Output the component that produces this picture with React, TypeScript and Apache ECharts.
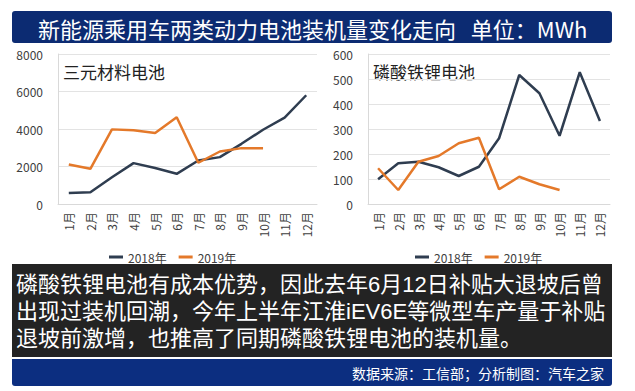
import React, { useEffect, useRef } from "react";
import * as echarts from "echarts";

const months = ["1月", "2月", "3月", "4月", "5月", "6月", "7月", "8月", "9月", "10月", "11月", "12月"];
const ternary2018 = [590, 625, 1430, 2180, 1920, 1610, 2320, 2500, 3210, 3960, 4610, 5800];
const ternary2019 = [2110, 1875, 3980, 3930, 3790, 4630, 2200, 2800, 2980, 2980];
const lfp2018 = [99, 163, 169, 147, 112, 149, 263, 516, 443, 273, 527, 332];
const lfp2019 = [143, 56, 169, 192, 243, 265, 59, 109, 79, 56];
const leftTicks = { max: 8000, interval: 2000 };
const rightTicks = { max: 600, interval: 100 };

const titleText = "新能源乘用车两类动力电池装机量变化走向   单位：MWh";
const noteLines = [
  "磷酸铁锂电池有成本优势，因此去年6月12日补贴大退坡后曾",
  "出现过装机回潮，今年上半年江淮iEV6E等微型车产量于补贴",
  "退坡前激增，也推高了同期磷酸铁锂电池的装机量。",
];
const sourceText = "数据来源：工信部；分析制图：汽车之家";

const C2018 = "#2f3d50";
const C2019 = "#e4792a";
const FONT = "'Noto Sans CJK SC', 'Noto Sans', sans-serif";
const NOTE_FONT = "'Liberation Sans', 'Noto Sans CJK SC', sans-serif";

export default function App() {
  const ref = useRef<HTMLDivElement>(null);
  useEffect(() => {
    if (!ref.current) return;
    const chart = echarts.init(ref.current, null, { renderer: "svg" });
    const yAxisCommon = {
      type: "value",
      min: 0,
      axisLine: { show: true, lineStyle: { color: "#d9d9d9" } },
      axisTick: { show: false },
      splitLine: { lineStyle: { color: "#e3e3e3" } },
      axisLabel: {
        color: "#404040",
        fontSize: 12,
        fontFamily: FONT,
        margin: 15,
        formatter: (v: number) => String(v),
      },
    };
    const xAxisCommon = {
      type: "category",
      data: months,
      boundaryGap: true,
      axisLine: { lineStyle: { color: "#d9d9d9" } },
      axisTick: { show: false },
      axisLabel: { rotate: 90, color: "#404040", fontSize: 12, fontFamily: FONT, margin: 8, interval: 0 },
    };
    const lineCommon = { type: "line", symbol: "none", lineStyle: { width: 2.5 } };
    const legendCommon = {
      top: 246,
      icon: "rect",
      itemWidth: 14,
      itemHeight: 3,
      itemGap: 12,
      textStyle: { color: "#404040", fontSize: 12, fontFamily: FONT },
      data: ["2018年", "2019年"],
    };
    chart.setOption({
      animation: false,
      backgroundColor: "#ffffff",
      textStyle: { fontFamily: FONT },
      grid: [
        { left: 58, top: 54, width: 259, height: 150 },
        { left: 368, top: 54, width: 242, height: 150 },
      ],
      xAxis: [
        { ...xAxisCommon, gridIndex: 0 },
        { ...xAxisCommon, gridIndex: 1 },
      ],
      yAxis: [
        { ...yAxisCommon, gridIndex: 0, max: leftTicks.max, interval: leftTicks.interval },
        { ...yAxisCommon, gridIndex: 1, max: rightTicks.max, interval: rightTicks.interval },
      ],
      legend: [
        { ...legendCommon, left: 104 },
        { ...legendCommon, left: 410 },
      ],
      series: [
        { ...lineCommon, name: "2018年", xAxisIndex: 0, yAxisIndex: 0, data: ternary2018, color: C2018 },
        { ...lineCommon, name: "2019年", xAxisIndex: 0, yAxisIndex: 0, data: ternary2019, color: C2019 },
        { ...lineCommon, name: "2018年", xAxisIndex: 1, yAxisIndex: 1, data: lfp2018, color: C2018 },
        { ...lineCommon, name: "2019年", xAxisIndex: 1, yAxisIndex: 1, data: lfp2019, color: C2019 },
      ],
      graphic: [
        { type: "rect", shape: { x: 12, y: 11, width: 600, height: 32, r: 3 }, style: { fill: "#0c2b72" } },
        {
          type: "text",
          x: 38,
          y: 28,
          style: { text: titleText, fill: "#ffffff", font: `22px ${FONT}`, textVerticalAlign: "middle" },
        },
        {
          type: "text",
          x: 61,
          y: 71,
          style: {
            text: "三元材料电池",
            fill: "#222222",
            font: `17px ${FONT}`,
            textVerticalAlign: "middle",
            backgroundColor: "#ffffff",
            padding: [1, 2],
          },
        },
        {
          type: "text",
          x: 371,
          y: 71,
          style: {
            text: "磷酸铁锂电池",
            fill: "#222222",
            font: `17px ${FONT}`,
            textVerticalAlign: "middle",
            backgroundColor: "#ffffff",
            padding: [1, 2],
          },
        },
        { type: "rect", shape: { x: 12, y: 264, width: 600, height: 93 }, style: { fill: "#232323" } },
        ...noteLines.map((t, i) => ({
          type: "text",
          x: 16,
          y: 284 + i * 27,
          style: {
            text: t,
            fill: "#ffffff",
            fontSize: 22,
            fontFamily: NOTE_FONT,
            lineHeight: 24,
            textVerticalAlign: "middle",
          },
        })),
        { type: "rect", shape: { x: 12, y: 359, width: 600, height: 27, r: [0, 0, 3, 3] }, style: { fill: "#0c2e80" } },
        {
          type: "text",
          x: 604,
          y: 373,
          style: {
            text: sourceText,
            fill: "#ffffff",
            font: `14px ${FONT}`,
            textAlign: "right",
            textVerticalAlign: "middle",
          },
        },
      ],
    });
    return () => chart.dispose();
  }, []);
  return <div ref={ref} style={{ position: "fixed", left: 0, top: 0, width: 635, height: 391 }} />;
}
